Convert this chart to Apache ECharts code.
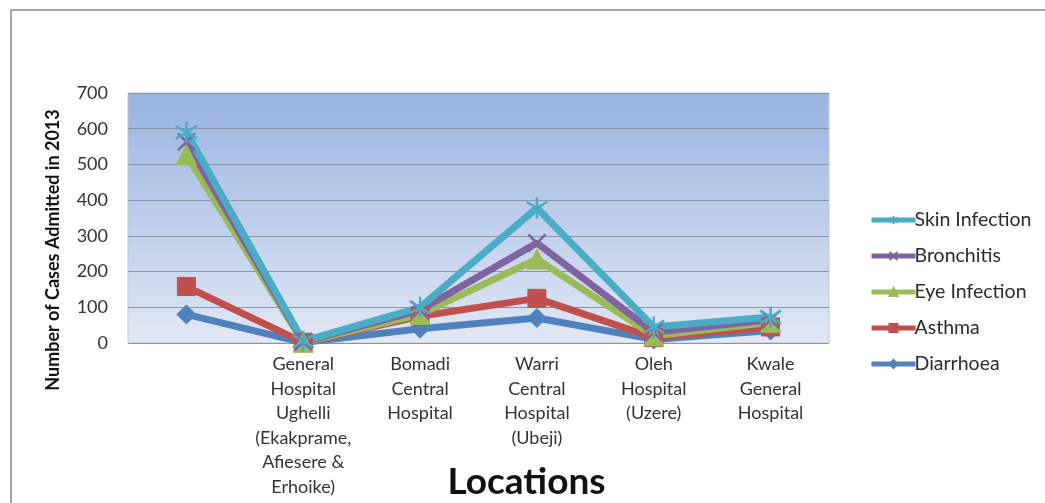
<!DOCTYPE html>
<html>
<head>
<meta charset="utf-8">
<title>Cases Admitted in 2013 by Location</title>
<script src="https://cdn.jsdelivr.net/npm/echarts@6/dist/echarts.min.js"></script>
<style>
  html, body { margin: 0; padding: 0; background: #ffffff; }
  #chart { width: 1045px; height: 503px; }
</style>
</head>
<body>
<div id="chart"></div>
<script>
// Hospitals (first location has no printed name)
const locations = [
  '',
  'General\nHospital\nUghelli\n(Ekakprame,\nAfiesere &\nErhoike)',
  'Bomadi\nCentral\nHospital',
  'Warri\nCentral\nHospital\n(Ubeji)',
  'Oleh\nHospital\n(Uzere)',
  'Kwale\nGeneral\nHospital'
];

// Cases admitted per location
const diarrhoea     = [80, 1, 40, 70, 10, 35];
const asthma        = [158, 2, 75, 125, 15, 45];
const eyeInfection  = [527, 2, 80, 235, 20, 58];
const bronchitis    = [563, 3, 92, 280, 30, 65];
const skinInfection = [590, 5, 100, 378, 45, 73];

const yTicks = { min: 0, max: 700, step: 100 };

const FONT = 'Lato, "Open Sans", "Liberation Sans", sans-serif';

const starPath = 'path://M0,-10L0,10M-9,-6L9,6M-9,6L9,-6';
const crossPath = 'path://M-8,-8L8,8M-8,8L8,-8';

function makeSeries(name, data, color, symbol, size, stroke) {
  return {
    name: name,
    type: 'line',
    data: data,
    symbol: symbol,
    symbolSize: size,
    showSymbol: true,
    lineStyle: { color: color, width: 7 },
    itemStyle: {
      color: color,
      borderColor: color,
      borderWidth: stroke
    },
    emphasis: { disabled: true },
    animation: false
  };
}

const chart = echarts.init(document.getElementById('chart'), null, { renderer: 'canvas' });

chart.setOption({
  backgroundColor: '#ffffff',
  animation: false,
  graphic: [
    {
      type: 'rect',
      shape: { x: 11, y: 10, width: 1200, height: 700 },
      style: { fill: 'none', stroke: '#a8a8a8', lineWidth: 2 },
      silent: true,
      z: -1
    },
    {
      type: 'text',
      x: 53,
      y: 250,
      rotation: Math.PI / 2,
      style: {
        text: 'Number of Cases Admitted in 2013',
        fontFamily: FONT,
        fontSize: 18,
        fontWeight: 'bold',
        fill: '#111111',
        align: 'center',
        verticalAlign: 'middle'
      }
    }
  ],
  grid: {
    left: 128,
    right: 216,
    top: 93,
    bottom: 160,
    outerBoundsMode: 'none',
    containLabel: false,
    show: true,
    borderColor: '#c4c8d0',
    borderWidth: 1,
    backgroundColor: new echarts.graphic.LinearGradient(0, 0, 0, 1, [
      { offset: 0, color: '#98b3e0' },
      { offset: 1, color: '#e2e8f5' }
    ])
  },
  legend: {
    orient: 'vertical',
    left: 864,
    top: 205,
    itemWidth: 44,
    itemHeight: 10,
    itemGap: 16,
    lineStyle: { width: 5 },
    data: ['Skin Infection', 'Bronchitis', 'Eye Infection', 'Asthma', 'Diarrhoea'],
    textStyle: {
      fontFamily: FONT,
      fontSize: 19.5,
      color: '#2b2b2b',
      padding: [0, 0, 0, -6]
    }
  },
  xAxis: {
    type: 'category',
    data: locations,
    boundaryGap: true,
    axisLine: { show: false },
    axisTick: { show: false },
    axisLabel: {
      interval: 0,
      margin: 9,
      fontFamily: FONT,
      fontSize: 18,
      lineHeight: 24.5,
      color: '#333333',
      align: 'center'
    },
    name: 'Locations',
    nameLocation: 'middle',
    nameGap: 121,
    nameMoveOverlap: false,
    nameTextStyle: {
      fontFamily: FONT,
      fontSize: 37,
      fontWeight: 'bold',
      color: '#111111',
      padding: [0, 0, 0, 96]
    }
  },
  yAxis: {
    type: 'value',
    min: yTicks.min,
    max: yTicks.max,
    interval: yTicks.step,
    axisLine: { show: false },
    axisTick: { show: false },
    axisLabel: {
      margin: 20,
      fontFamily: FONT,
      fontSize: 18,
      color: '#333333'
    },
    splitLine: { lineStyle: { color: '#8e939c', width: 1.2 } }
  },
  series: [
    makeSeries('Diarrhoea', diarrhoea, '#4f81bd', 'diamond', 19, 1),
    makeSeries('Asthma', asthma, '#c0504d', 'rect', 18, 1),
    makeSeries('Eye Infection', eyeInfection, '#9bbb59', 'triangle', 20, 1),
    makeSeries('Bronchitis', bronchitis, '#8064a2', crossPath, 17, 2.5),
    makeSeries('Skin Infection', skinInfection, '#4bacc6', starPath, 21, 2.5)
  ]
});
</script>
</body>
</html>
